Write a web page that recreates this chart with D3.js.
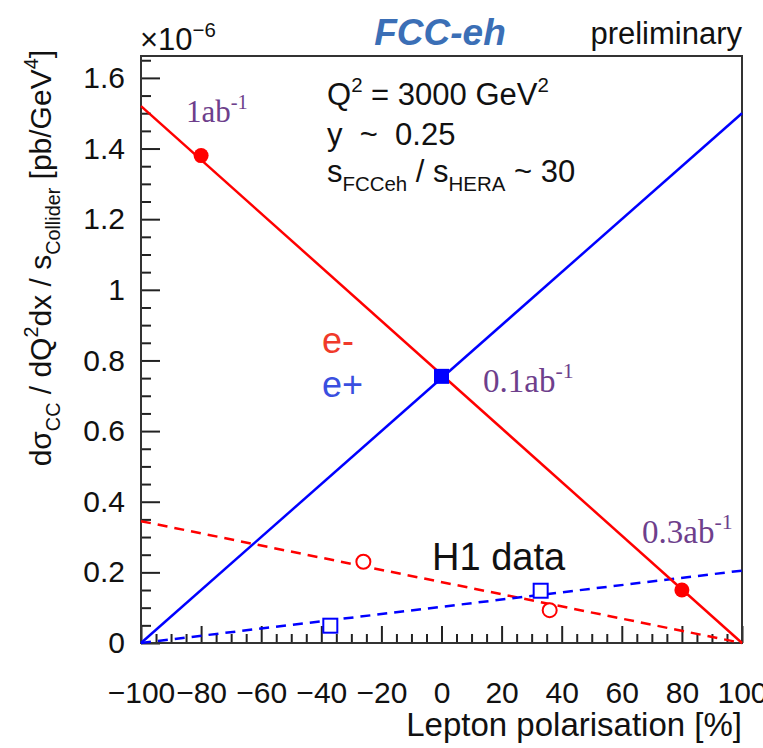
<!DOCTYPE html>
<html>
<head>
<meta charset="utf-8">
<script src="https://cdn.jsdelivr.net/npm/d3@7"></script>
<style>
  body { margin: 0; background: #fff; }
  text { font-family: "Liberation Sans", Arial, sans-serif; white-space: pre; }
</style>
</head>
<body>
<div id="chart"></div>
<script>
// polarisation in %, cross sections in units of 1e-6 pb/GeV^4
var polarisation = [-100, 100];
var eMinusLine = [1.52, 0.0];
var ePlusLine = [0.0, 1.50];
var h1EMinusLine = [0.345, 0.0];
var h1EPlusLine = [0.0, 0.205];

var fccEMinusP = [-80, 80];
var fccEMinusVal = [1.38, 0.15];
var fccEPlusP = [0];
var fccEPlusVal = [0.755];

var h1EMinusP = [-26, 36];
var h1EMinusVal = [0.23, 0.093];
var h1EPlusP = [-37, 33];
var h1EPlusVal = [0.049, 0.148];

var xMajor = [-100, -80, -60, -40, -20, 0, 20, 40, 60, 80, 100];
var yMajor = [0, 0.2, 0.4, 0.6, 0.8, 1.0, 1.2, 1.4, 1.6];

var margin = {top: 56, right: 21, bottom: 105, left: 141},
    width = 763 - margin.left - margin.right,
    height = 748 - margin.top - margin.bottom;

var red = "#ff0000", blue = "#0000ff", purple = "#6e3f8c";

var svg = d3.select("#chart").append("svg")
            .attr("width", 763)
            .attr("height", 748);

var canvas = svg.append("g")
            .attr("transform", "translate(" + margin.left + "," + margin.top + ")");

var x = d3.scaleLinear().domain([-100, 100]).range([0, width]),
    y = d3.scaleLinear().domain([0, 1.662]).range([height, 0]);

// minor ticks
var xMinor = d3.range(-100, 101, 5).filter(function(d) { return d % 20 !== 0; });
var yMinor = d3.range(0, 34).map(function(i) { return +(i * 0.05).toFixed(2); })
               .filter(function(d) { return Math.round(d * 100) % 20 !== 0; });

canvas.append("g")
      .attr("transform", "translate(0," + height + ")")
      .call(d3.axisBottom(x).tickValues(xMinor).tickSize(-9).tickFormat(""));
canvas.append("g")
      .attr("transform", "translate(0," + height + ")")
      .call(d3.axisBottom(x).tickValues(xMajor).tickSize(-17).tickPadding(39)
            .tickFormat(d3.format("d")));
canvas.append("g")
      .call(d3.axisLeft(y).tickValues(yMinor).tickSize(-10).tickFormat(""));
canvas.append("g")
      .call(d3.axisLeft(y).tickValues(yMajor).tickSize(-19).tickPadding(16)
            .tickFormat(function(d) { return String(+d.toFixed(1)); }));

canvas.selectAll(".domain").remove();
canvas.selectAll(".tick line").attr("stroke", "#222").attr("stroke-width", 2);
canvas.selectAll(".tick text")
      .attr("font-size", "30px")
      .attr("font-family", "Liberation Sans, Arial, sans-serif")
      .attr("fill", "#111");

canvas.append("rect")
      .attr("width", width)
      .attr("height", height)
      .attr("fill", "none")
      .attr("stroke", "#333")
      .attr("stroke-width", 2);

function lineData(ys) {
    return polarisation.map(function(p, i) { return [p, ys[i]]; });
}
var line = d3.line()
             .x(function(d) { return x(d[0]); })
             .y(function(d) { return y(d[1]); });

// H1 fits (dashed)
canvas.append("path").datum(lineData(h1EMinusLine))
      .attr("fill", "none").attr("stroke", red).attr("stroke-width", 2.5)
      .attr("stroke-dasharray", "10,7").attr("d", line);
canvas.append("path").datum(lineData(h1EPlusLine))
      .attr("fill", "none").attr("stroke", blue).attr("stroke-width", 2.5)
      .attr("stroke-dasharray", "10,7").attr("d", line);

// FCC-eh predictions (solid)
canvas.append("path").datum(lineData(eMinusLine))
      .attr("fill", "none").attr("stroke", red).attr("stroke-width", 2.5)
      .attr("d", line);
canvas.append("path").datum(lineData(ePlusLine))
      .attr("fill", "none").attr("stroke", blue).attr("stroke-width", 2.5)
      .attr("d", line);

// markers
canvas.selectAll(".fccem").data(fccEMinusP).enter().append("circle")
      .attr("cx", function(d) { return x(d); })
      .attr("cy", function(d, i) { return y(fccEMinusVal[i]); })
      .attr("r", 7.5).attr("fill", red);
canvas.selectAll(".fccep").data(fccEPlusP).enter().append("rect")
      .attr("x", function(d) { return x(d) - 7.5; })
      .attr("y", function(d, i) { return y(fccEPlusVal[i]) - 7.5; })
      .attr("width", 15).attr("height", 15).attr("fill", blue);
canvas.selectAll(".h1em").data(h1EMinusP).enter().append("circle")
      .attr("cx", function(d) { return x(d); })
      .attr("cy", function(d, i) { return y(h1EMinusVal[i]); })
      .attr("r", 7).attr("fill", "#fff").attr("stroke", red).attr("stroke-width", 2);
canvas.selectAll(".h1ep").data(h1EPlusP).enter().append("rect")
      .attr("x", function(d) { return x(d) - 7; })
      .attr("y", function(d, i) { return y(h1EPlusVal[i]) - 7; })
      .attr("width", 14).attr("height", 14)
      .attr("fill", "#fff").attr("stroke", blue).attr("stroke-width", 2);

// text with super/subscripts
function rich(parent, px, py, parts, size, color, extra) {
    var t = parent.append("text").attr("x", px).attr("y", py)
                  .attr("font-size", size + "px").attr("fill", color);
    if (extra) extra(t);
    var shift = 0;
    parts.forEach(function(p) {
        var target = p[1] === "sup" ? -0.42 * size : p[1] === "sub" ? 0.3 * size : 0;
        var ts = t.append("tspan").text(p[0]).attr("dy", target - shift);
        if (p[1]) ts.attr("font-size", (0.66 * size) + "px");
        shift = target;
    });
    return t;
}

rich(svg, 140, 50, [["\u00d710"], ["\u22126", "sup"]], 31, "#111");
svg.append("text").attr("x", 440).attr("y", 45)
   .attr("text-anchor", "middle").attr("font-size", "37px")
   .attr("font-weight", "bold").attr("font-style", "italic")
   .attr("fill", "#3b6fb6").text("FCC-eh");
svg.append("text").attr("x", 742).attr("y", 44)
   .attr("text-anchor", "end").attr("font-size", "31px")
   .attr("fill", "#111").text("preliminary");

rich(svg, 327, 105, [["Q"], ["2", "sup"], [" = 3000 GeV"], ["2", "sup"]], 31, "#111");
rich(svg, 327, 145, [["y  ~  0.25"]], 31, "#111");
rich(svg, 327, 182, [["s"], ["FCCeh", "sub"], [" / s"], ["HERA", "sub"], [" ~ 30"]], 31, "#111");

function serif(t) { t.style("font-family", "'Liberation Serif', 'Times New Roman', serif"); }
rich(svg, 186, 122, [["1ab"], ["-1", "sup"]], 31, purple, serif);
rich(svg, 483, 392, [["0.1ab"], ["-1", "sup"]], 33, purple, serif);
rich(svg, 642, 543, [["0.3ab"], ["-1", "sup"]], 33, purple, serif);

svg.append("text").attr("x", 322).attr("y", 353)
   .attr("font-size", "36px").attr("fill", "#f03a2a").text("e-");
svg.append("text").attr("x", 322).attr("y", 397)
   .attr("font-size", "36px").attr("fill", "#3a4fe0").text("e+");
svg.append("text").attr("x", 432).attr("y", 570)
   .attr("font-size", "38px").attr("fill", "#111").text("H1 data");

// axis titles
svg.append("text").attr("x", 742).attr("y", 736)
   .attr("text-anchor", "end").attr("font-size", "33px")
   .attr("fill", "#111").text("Lepton polarisation [%]");
rich(svg, 0, 0, [["d\u03c3"], ["CC", "sub"], [" / dQ"], ["2", "sup"], ["dx / s"],
                 ["Collider", "sub"], [" [pb/GeV"], ["4", "sup"], ["]"]], 30, "#111",
     function(t) {
         t.attr("text-anchor", "end")
          .attr("transform", "translate(51,50) rotate(-90)");
     });
</script>
</body>
</html>
